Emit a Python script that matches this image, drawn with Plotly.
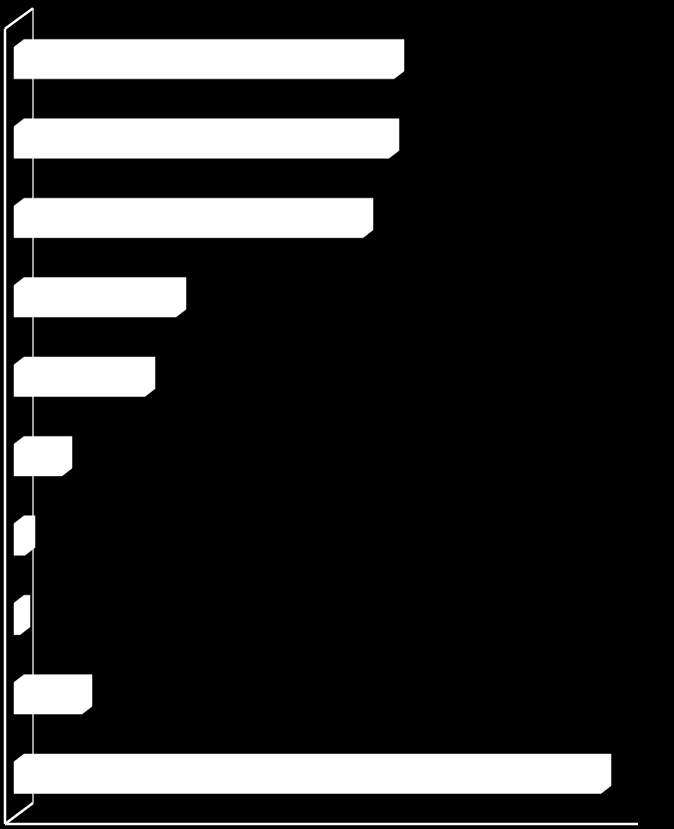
import plotly.graph_objects as go

# values (front-face length, arbitrary units)
categories = ["c1", "c2", "c3", "c4", "c5", "c6", "c7", "c8", "c9", "c10"]
values = [38.0, 37.5, 34.9, 16.2, 13.1, 4.8, 1.1, 0.6, 6.8, 58.7]

# pseudo-3D styling (axis units)
DEPTH_X = 1.0      # ~10 px to the right
DEPTH_Y = 0.097    # ~7.7 px upwards
HALF_H = 0.2      # half height of the front face

fig = go.Figure()

for i, (cat, v) in enumerate(zip(categories, values)):
    top = i - HALF_H
    bot = i + HALF_H
    xs = [0, 0, DEPTH_X, v + DEPTH_X, v + DEPTH_X, v, 0]
    ys = [bot, top, top - DEPTH_Y, top - DEPTH_Y, bot - DEPTH_Y, bot, bot]
    fig.add_trace(
        go.Scatter(
            x=xs, y=ys, mode="lines", fill="toself",
            fillcolor="white", line=dict(color="white", width=0.5),
            name=cat, hoverinfo="skip", showlegend=False,
        )
    )

# 3D frame: back wall, side, floor edge
frame = dict(color="white", width=2.5)
shapes = [
    dict(type="line", x0=1.9, x1=1.9, y0=-0.69, y1=9.32,
         line=dict(color="#a0a0a0", width=2), layer="below"),
    dict(type="line", x0=-0.9, x1=-0.9, y0=-0.43, y1=9.585, line=frame, layer="below"),
    dict(type="line", x0=-0.9, x1=1.9, y0=-0.43, y1=-0.69, line=frame, layer="below"),
    dict(type="line", x0=-0.9, x1=1.9, y0=9.585, y1=9.32, line=frame, layer="below"),
    dict(type="line", x0=-0.9, x1=62.4, y0=9.585, y1=9.585, line=frame, layer="below"),
]

fig.update_layout(
    width=674, height=829,
    margin=dict(l=0, r=0, t=0, b=0),
    paper_bgcolor="black", plot_bgcolor="black",
    showlegend=False,
    shapes=shapes,
    xaxis=dict(range=[-1.4, 66.0], visible=False, fixedrange=True),
    yaxis=dict(range=[9.647, -0.793], visible=False, fixedrange=True),
)

fig.write_html(
    "out.html",
    config={"displayModeBar": False},
    post_script="document.body.style.margin='0';document.body.style.background='black';",
)
